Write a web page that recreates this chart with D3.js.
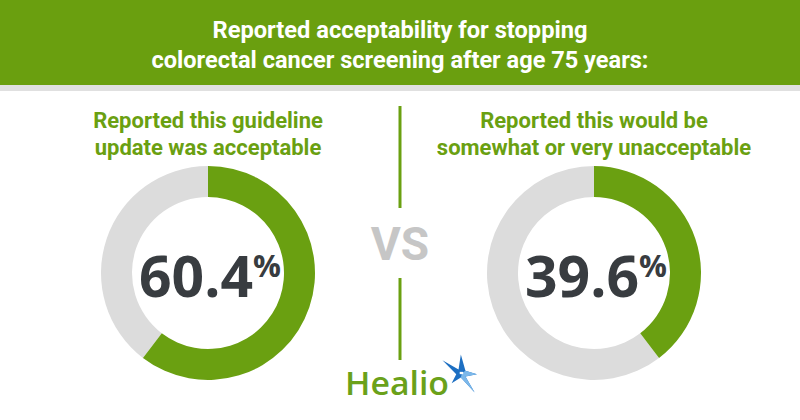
<!DOCTYPE html>
<html>
<head>
<meta charset="utf-8">
<script src="https://cdn.jsdelivr.net/npm/d3@7"></script>
<style>
  html, body { margin: 0; padding: 0; background: #fff; }
  svg { display: block; }
</style>
</head>
<body>
<svg id="chart" width="800" height="420"></svg>
<script>
// ---- data ----
const titleLines = ["Reported acceptability for stopping", "colorectal cancer screening after age 75 years:"];
const panelLabels = [
  ["Reported this guideline", "update was acceptable"],
  ["Reported this would be", "somewhat or very unacceptable"]
];
const values = [60.4, 39.6];
const valueLabels = ["60.4", "39.6"];
const vsLabel = "VS";
const brand = "Healio";

// ---- styles ----
const GREEN = "#6aa011";
const GREY_ARC = "#dcdcdc";
const DARK = "#383c40";

const svg = d3.select("#chart");
const W = 800, H = 420;

// header
svg.append("rect").attr("x", 0).attr("y", 0).attr("width", W).attr("height", 85).attr("fill", "#6a9f0f");
svg.append("rect").attr("x", 0).attr("y", 85).attr("width", W).attr("height", 6).attr("fill", "#e0e0e0");

const titleLen = [375, 497];
const titleBase = [38, 68];
svg.selectAll("text.title").data(titleLines).join("text")
  .attr("class", "title")
  .attr("x", W / 2)
  .attr("y", (d, i) => titleBase[i])
  .attr("text-anchor", "middle")
  .attr("font-family", "Roboto, sans-serif")
  .attr("font-weight", 700)
  .attr("font-size", 23.5)
  .attr("fill", "#fff")
  .attr("textLength", (d, i) => titleLen[i])
  .attr("lengthAdjust", "spacingAndGlyphs")
  .text(d => d);

// panel positions
const x = d3.scalePoint().domain(d3.range(values.length)).range([208, 594]);
const cy = 273;
const outerR = 107, innerR = 76;

const pct = d3.scaleLinear().domain([0, 100]).range([0, 2 * Math.PI]);
const arc = d3.arc().innerRadius(innerR).outerRadius(outerR);

const panels = svg.selectAll("g.panel").data(values).join("g")
  .attr("class", "panel")
  .attr("transform", (d, i) => `translate(${x(i)},0)`);

// subtitle
panels.each(function (d, i) {
  const g = d3.select(this);
  g.selectAll("text.sub").data(panelLabels[i]).join("text")
    .attr("class", "sub")
    .attr("x", 0)
    .attr("y", (t, j) => 128 + j * 27)
    .attr("text-anchor", "middle")
    .attr("font-family", "Roboto, sans-serif")
    .attr("font-weight", 700)
    .attr("font-size", 22)
    .attr("fill", GREEN)
    .text(t => t);
});

// donut
const donut = panels.append("g").attr("transform", `translate(0,${cy})`);
donut.append("path")
  .attr("fill", GREY_ARC)
  .attr("d", d => arc({ startAngle: pct(d), endAngle: pct(100) }));
donut.append("path")
  .attr("fill", GREEN)
  .attr("d", d => arc({ startAngle: 0, endAngle: pct(d) }));

// value label
const vt = donut.append("text")
  .attr("x", 2)
  .attr("y", 24)
  .attr("text-anchor", "middle")
  .attr("font-family", "'Open Sans', sans-serif")
  .attr("font-weight", 700)
  .attr("fill", DARK);
vt.append("tspan").attr("font-size", 57).text((d, i) => valueLabels[i]);
vt.append("tspan").attr("font-size", 31).attr("dy", -20).text("%");

// divider
svg.append("line").attr("x1", 400).attr("x2", 400).attr("y1", 106).attr("y2", 208)
  .attr("stroke", GREEN).attr("stroke-width", 3);
svg.append("line").attr("x1", 400).attr("x2", 400).attr("y1", 278).attr("y2", 360)
  .attr("stroke", GREEN).attr("stroke-width", 3);
svg.append("text").attr("x", 400).attr("y", 260)
  .attr("text-anchor", "middle")
  .attr("font-family", "Roboto, sans-serif")
  .attr("font-weight", 700)
  .attr("font-size", 46)
  .attr("fill", "#c6c6c6")
  .text(vsLabel);

// logo
svg.append("text").attr("x", 345).attr("y", 395)
  .attr("font-family", "'Open Sans', sans-serif")
  .attr("font-weight", 600)
  .attr("font-size", 32)
  .attr("fill", "#6aa11a")
  .attr("textLength", 104)
  .attr("lengthAdjust", "spacingAndGlyphs")
  .text(brand);

const star = svg.append("g").attr("transform", "translate(462,373) scale(1.15)");
star.append("path").attr("fill", "#1d6fc2")
  .attr("d", "M-3,-3 L-1,-16 L3,-2 L13,1 L3,3 L11,17 L-1,4 L-9,9 L-5,1 L-17,-11 Z");
star.append("path").attr("fill", "#7cb8ea")
  .attr("d", "M0,0 L3,-2 L13,1 L3,3 Z M0,0 L3,3 L11,17 L-1,4 Z");
star.append("path").attr("fill", "#fff")
  .attr("d", "M-2,-1 L1,-1 L1,1 L-2,1 Z");
</script>
</body>
</html>
